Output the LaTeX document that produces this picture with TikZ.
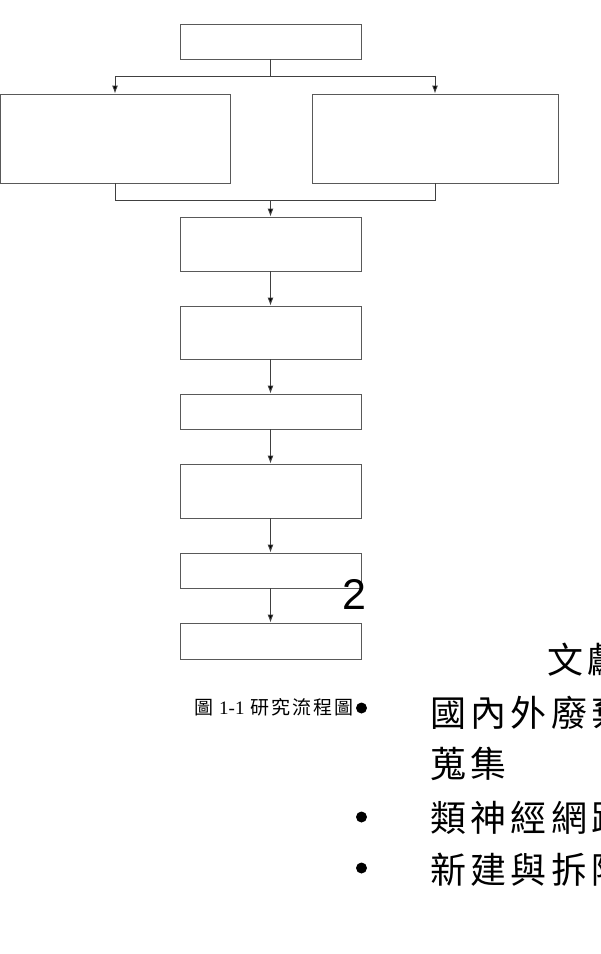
\documentclass[tikz,border=0pt]{standalone}
\usepackage{fontspec}
\setmainfont{Liberation Serif}
\newfontfamily\cjk[LetterSpace=10]{Noto Sans CJK TC}
\newfontfamily\cjkwide[LetterSpace=12]{Noto Sans CJK TC}
\newfontfamily\arialfont{Liberation Sans}
\usetikzlibrary{arrows.meta}
\begin{document}
\begin{tikzpicture}[x=1pt,y=-1pt,
  flowbox/.style={draw=black!65, line width=0.9pt, rectangle, inner sep=0pt},
  link/.style={draw=black!75, line width=0.9pt},
  arr/.style={link, -{Latex[length=8pt,width=6pt,fill=black]}},
  bigtext/.style={inner sep=0pt, anchor=west, font=\fontsize{36}{36}\cjkwide},
  dot/.style={circle, fill=black, inner sep=0pt, minimum size=11pt}]
\useasboundingbox (0,0) rectangle (601,954);
\clip (0,0) rectangle (601,954);
% boxes
\node[flowbox, minimum width=181pt, minimum height=35pt] (b1) at (270.5,41.5) {};
\node[flowbox, minimum width=230pt, minimum height=89pt] (bl) at (115.5,138.5) {};
\node[flowbox, minimum width=246pt, minimum height=89pt] (br) at (435,138.5) {};
\node[flowbox, minimum width=181pt, minimum height=54pt] (b3) at (270.5,244) {};
\node[flowbox, minimum width=181pt, minimum height=53pt] (b4) at (270.5,332.5) {};
\node[flowbox, minimum width=181pt, minimum height=35pt] (b5) at (270.5,411.5) {};
\node[flowbox, minimum width=181pt, minimum height=54pt] (b6) at (270.5,491) {};
\node[flowbox, minimum width=181pt, minimum height=35pt] (b7) at (270.5,570.5) {};
\node[flowbox, minimum width=181pt, minimum height=36pt] (b8) at (270.5,641) {};
% connectors
\coordinate (split) at (270.5,76.5);
\coordinate (merge) at (270.5,200);
\draw[link] (b1.south) -- (split);
\draw[arr] (split) -| (bl.north -| 115,0);
\draw[arr] (split) -| (br.north);
\draw[link] (bl.south -| 115,0) |- (merge);
\draw[link] (br.south) |- (merge);
\draw[arr] (merge) -- (b3.north);
\draw[arr] (b3.south) -- (b4.north);
\draw[arr] (b4.south) -- (b5.north);
\draw[arr] (b5.south) -- (b6.north);
\draw[arr] (b6.south) -- (b7.north);
\draw[arr] (b7.south) -- (b8.north);
% overlay texts
\node[inner sep=0pt, font=\fontsize{43}{43}\arialfont] (two) at (354.5,594) {2};
\node[inner sep=0pt, anchor=west, font=\fontsize{19}{19}\selectfont] (cap) at (194,707)
  {{\cjk 圖}\hspace{6pt}1-1\hspace{6pt}{\cjk 研究流程圖}};
\node[dot] (d1) at (361.5,708) {};
\node[dot] (d2) at (361.5,817) {};
\node[dot] (d3) at (361.5,868) {};
\node[bigtext] (t0) at (547,660) {文獻};
\node[bigtext] (t1) at (430,713) {國內外廢棄};
\node[bigtext] (t2) at (430,764) {蒐集};
\node[bigtext] (t3) at (430,818) {類神經網路};
\node[bigtext] (t4) at (430,870) {新建與拆除};
\end{tikzpicture}
\end{document}
